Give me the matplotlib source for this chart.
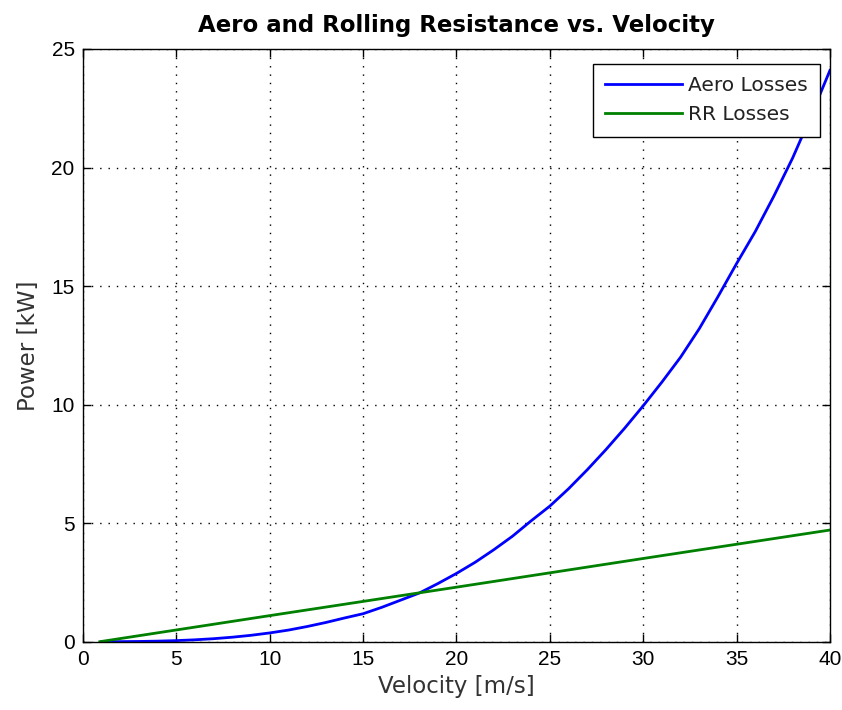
import matplotlib.pyplot as plt

plt.rcParams["font.family"] = ["DejaVu Sans"]

# velocity in m/s, power in kW
velocity = list(range(1, 41))
aero_kw = [0.0, 0.003, 0.01, 0.024, 0.046, 0.08, 0.127, 0.19, 0.27, 0.37,
           0.49, 0.64, 0.81, 1.0, 1.18, 1.45, 1.75, 2.05, 2.45, 2.88,
           3.35, 3.88, 4.45, 5.1, 5.72, 6.45, 7.25, 8.1, 9.0, 9.95,
           10.95, 12.0, 13.2, 14.55, 15.95, 17.3, 18.8, 20.4, 22.2, 24.1]

rr_velocity = [0.9, 10, 20, 30, 40]
rr_kw = [0.0, 1.1, 2.3, 3.51, 4.71]

x_ticks = [0, 5, 10, 15, 20, 25, 30, 35, 40]
y_ticks = [0, 5, 10, 15, 20, 25]


def plot_losses():
    fig = plt.figure(figsize=(8.42, 7.10), dpi=100)
    ax = fig.add_axes([0.0986, 0.0962, 0.8871, 0.8348])

    ax.plot(velocity, aero_kw, color=(0, 0, 1), lw=2.0, label="Aero Losses")
    ax.plot(rr_velocity, rr_kw, color=(0, 0.5, 0), lw=2.0, label="RR Losses")

    ax.set_xlim(0, 40)
    ax.set_ylim(0, 25)
    ax.set_xticks(x_ticks)
    ax.set_yticks(y_ticks)
    ax.tick_params(direction="in", length=6, width=1, top=True, right=True,
                   labelsize=15, colors="black", pad=6)
    for lbl in ax.get_xticklabels() + ax.get_yticklabels():
        lbl.set_family("Liberation Sans")
    for s in ax.spines.values():
        s.set_linewidth(1.0)
    ax.grid(True, color="black", linestyle=(0, (1, 5)), lw=1.0)

    ax.set_xlabel("Velocity [m/s]", fontsize=16.5, color="#333333", labelpad=4)
    ax.set_ylabel("Power [kW]", fontsize=16.5, color="#333333", labelpad=8)
    ax.set_title("Aero and Rolling Resistance vs. Velocity", fontsize=16.5,
                 fontweight="bold", pad=12)

    leg = ax.legend(loc="upper right", bbox_to_anchor=(0.987, 0.975),
                    borderaxespad=0, fontsize=14.5, handlelength=3.8,
                    fancybox=False, edgecolor="black", framealpha=1,
                    borderpad=0.62, labelspacing=0.5, handletextpad=0.3)
    leg.get_frame().set_linewidth(1.0)
    for t in leg.get_texts():
        t.set_color("#222222")

    fig.savefig("out.png", dpi=100)


if __name__ == "__main__":
    plot_losses()
